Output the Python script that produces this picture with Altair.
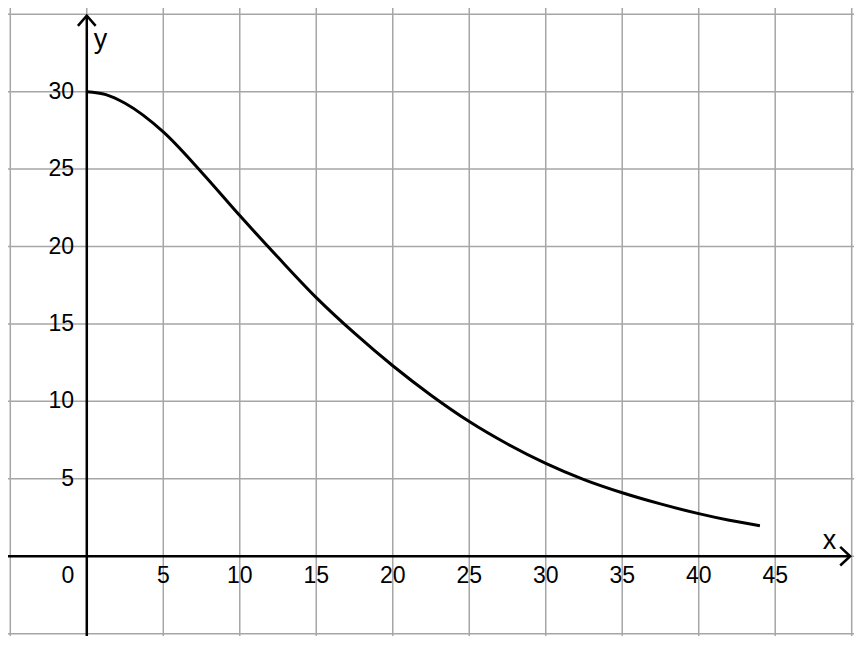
import altair as alt
import pandas as pd

# ---- data ----
curve_x = [0, 1.25, 2.5, 5, 7.5, 10, 12.5, 15, 17.5, 20, 22.5, 25, 27.5, 30, 32.5, 35, 37.5, 40, 42, 44]
curve_y = [30, 29.81, 29.25, 27.4, 24.8, 22.0, 19.3, 16.7, 14.4, 12.3, 10.4, 8.7, 7.25, 6.0, 4.95, 4.1, 3.38, 2.75, 2.32, 1.97]

grid_x = [-5, 0, 5, 10, 15, 20, 25, 30, 35, 40, 45, 50]
grid_y = [-5, 0, 5, 10, 15, 20, 25, 30, 35]

xtick_vals = [5, 10, 15, 20, 25, 30, 35, 40, 45]
ytick_vals = [5, 10, 15, 20, 25, 30]
origin_label = ["0"]
axis_names = ["x", "y"]

X_DOMAIN = [-5.15, 50.15]
Y_DOMAIN = [-5.15, 35.4]
FONT = "Liberation Sans"
TICK_FS = 23

xs = alt.Scale(domain=X_DOMAIN, nice=False, zero=False)
ys = alt.Scale(domain=Y_DOMAIN, nice=False, zero=False)

def X(field="x"):
    return alt.X(f"{field}:Q", scale=xs, axis=None)

def Y(field="y"):
    return alt.Y(f"{field}:Q", scale=ys, axis=None)

# grid
vgrid = alt.Chart(pd.DataFrame({"x": grid_x})).mark_rule(
    color="#a6a6a6", strokeWidth=1.5).encode(x=X())
hgrid = alt.Chart(pd.DataFrame({"y": grid_y})).mark_rule(
    color="#a6a6a6", strokeWidth=1.5).encode(y=Y())

# axes lines
x_axis = alt.Chart(pd.DataFrame({"x": [X_DOMAIN[0]], "x2": [49.9], "y": [0]})).mark_rule(
    color="black", strokeWidth=2.5).encode(x=X(), x2="x2:Q", y=Y())
y_axis = alt.Chart(pd.DataFrame({"x": [0], "y": [Y_DOMAIN[0]], "y2": [34.9]})).mark_rule(
    color="black", strokeWidth=2.5).encode(x=X(), y=Y(), y2="y2:Q")

# arrow heads
arrow_df = pd.DataFrame({
    "g": ["ya", "ya", "ya", "xa", "xa", "xa"],
    "o": [0, 1, 2, 0, 1, 2],
    "x": [-0.58, 0, 0.58, 49.25, 49.9, 49.25],
    "y": [34.25, 34.9, 34.25, 0.6, 0, -0.6],
})
arrows = alt.Chart(arrow_df).mark_line(color="black", strokeWidth=2.5).encode(
    x=X(), y=Y(), detail="g:N", order="o:Q")

# curve
curve = alt.Chart(pd.DataFrame({"x": curve_x, "y": curve_y})).mark_line(
    color="black", strokeWidth=3, interpolate="monotone").encode(x=X(), y=Y())

# tick labels
xlab = alt.Chart(pd.DataFrame({"x": xtick_vals, "y": [-1.3] * len(xtick_vals),
                               "t": [str(v) for v in xtick_vals]})).mark_text(
    font=FONT, fontSize=TICK_FS, align="center", baseline="middle", color="black").encode(
    x=X(), y=Y(), text="t:N")
ylab = alt.Chart(pd.DataFrame({"x": [-0.83] * len(ytick_vals), "y": ytick_vals,
                               "t": [str(v) for v in ytick_vals]})).mark_text(
    font=FONT, fontSize=TICK_FS, align="right", baseline="middle", color="black").encode(
    x=X(), y=Y(), text="t:N")
olab = alt.Chart(pd.DataFrame({"x": [-1.24], "y": [-1.3], "t": origin_label})).mark_text(
    font=FONT, fontSize=TICK_FS, align="center", baseline="middle", color="black").encode(
    x=X(), y=Y(), text="t:N")

names = alt.Chart(pd.DataFrame({"x": [48.1, 0.45], "y": [0.44, 32.8], "t": axis_names})).mark_text(
    font=FONT, fontSize=27, align="left", baseline="alphabetic", color="black").encode(
    x=X(), y=Y(), text="t:N")

chart = alt.layer(vgrid, hgrid, curve, x_axis, y_axis, arrows, xlab, ylab, olab, names).properties(
    width=846, height=628, padding=0, autosize=alt.AutoSizeParams(type="none"),
    background="white",
).configure_view(stroke=None)

chart.save("out.html", embed_options={"renderer": "svg", "actions": False})
